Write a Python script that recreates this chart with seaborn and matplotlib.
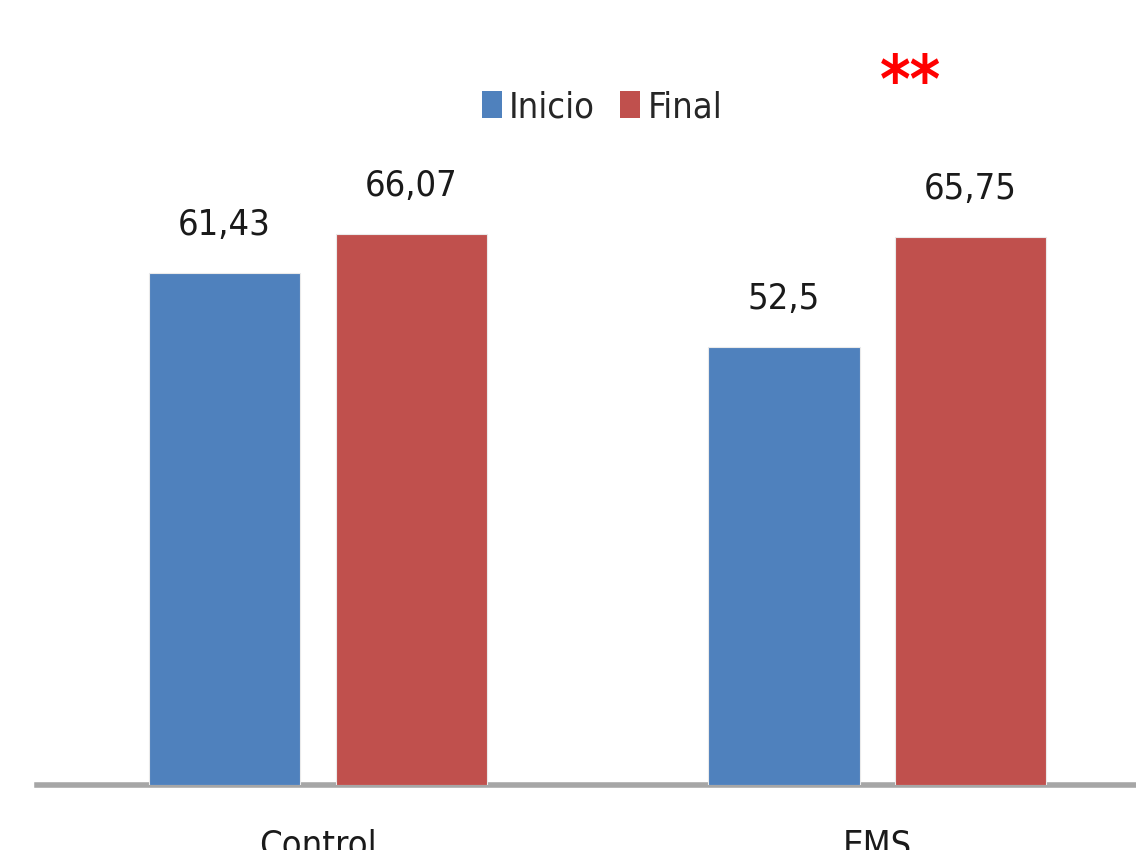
import matplotlib
matplotlib.use("Agg")
import matplotlib.pyplot as plt
import seaborn as sns
import pandas as pd
from matplotlib.patches import Patch

groups = ["Control", "EMS"]
phases = ["Inicio", "Final"]
inicio = [61.43, 52.5]
final = [66.07, 65.75]
colors = ["#4F81BD", "#C0504D"]

df = pd.DataFrame({
    "grupo": groups * 2,
    "fase": [phases[0]] * len(groups) + [phases[1]] * len(groups),
    "valor": inicio + final,
})

sns.set_theme(style="white")
plt.rcParams["font.family"] = ["DejaVu Sans"]
plt.rcParams["font.stretch"] = "condensed"

fig = plt.figure(figsize=(11.36, 8.5), dpi=100)
ax = fig.add_axes([37 / 1136, 65 / 850, 1120 / 1136, 785 / 850])

sns.barplot(data=df, x="grupo", y="valor", hue="fase", order=groups,
            hue_order=phases, palette=colors, saturation=1,
            width=0.668, gap=0.19, ax=ax, legend=False, zorder=3,
            edgecolor="#eaeaea", linewidth=0.8)

for cont in ax.containers:
    labels = [f"{b.get_height():g}".replace(".", ",") for b in cont]
    ax.bar_label(cont, labels=labels, padding=22, fontsize=26,
                 color="#1a1a1a", fontstretch="condensed")

ax.set_xlim(-0.502, 1.5)
ax.set_ylim(0, 94.1)
ax.set_xlabel("")
ax.set_ylabel("")
ax.set_yticks([])
ax.tick_params(axis="x", length=0, pad=31, labelsize=26, colors="#1a1a1a")
for lab in ax.get_xticklabels():
    lab.set_fontstretch("condensed")

for side in ["top", "left", "right"]:
    ax.spines[side].set_visible(False)
ax.spines["bottom"].set_color("#a6a6a6")
ax.spines["bottom"].set_linewidth(4)
ax.spines["bottom"].set_zorder(2)

handles = [Patch(facecolor=c, edgecolor="none") for c in colors]
leg = fig.legend(handles, phases, loc="center", bbox_to_anchor=(602 / 1136, 1 - 107 / 850),
                 ncol=2, frameon=False, fontsize=26, handlelength=0.55, handleheight=0.8,
                 handletextpad=0.2, columnspacing=0.7)
for t in leg.get_texts():
    t.set_fontstretch("condensed")

ax.text(1.06, 84, "**", color="#ff0000", fontsize=47, fontweight="bold",
        ha="center", va="center", family="DejaVu Sans")

fig.savefig("out.png", dpi=100)
